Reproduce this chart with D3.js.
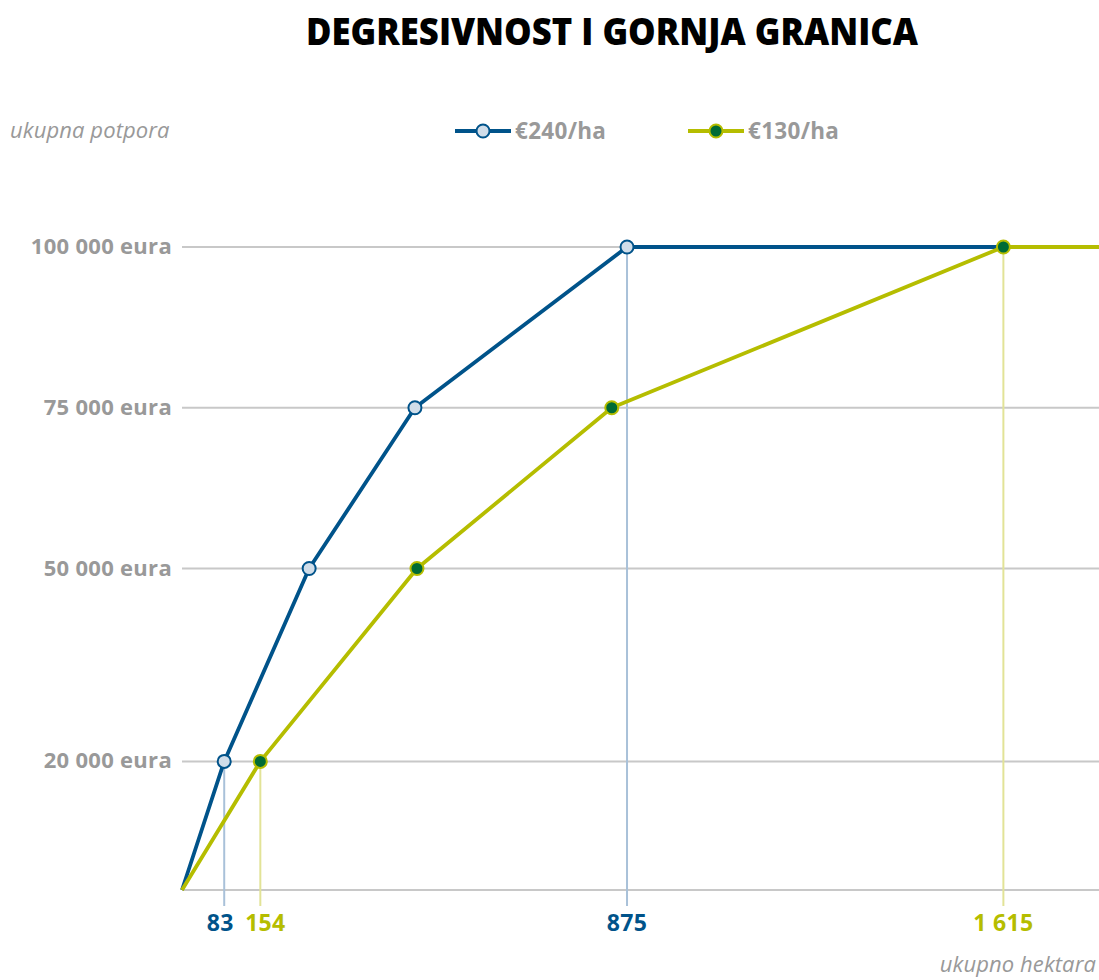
<!DOCTYPE html>
<html><head><meta charset="utf-8">
<script src="https://cdn.jsdelivr.net/npm/d3@7"></script>
<style>body{margin:0;background:#fff;} svg{display:block;}</style>
</head><body>
<svg id="chart" width="1099" height="980"></svg>
<script>
const title = "DEGRESIVNOST I GORNJA GRANICA";
const yAxisTitle = "ukupna potpora";
const xAxisTitle = "ukupno hektara";
const seriesNames = ["€240/ha", "€130/ha"];
const hectares240 = [0, 83, 250, 458, 875, 1803];
const support240 = [0, 20000, 50000, 75000, 100000, 100000];
const hectares130 = [0, 154, 462, 845, 1615, 1803];
const support130 = [0, 20000, 50000, 75000, 100000, 100000];
const markers240 = [83, 250, 458, 875];
const markers130 = [154, 462, 845, 1615];
const yTicks = [20000, 50000, 75000, 100000];
const yTickLabels = ["20 000 eura", "50 000 eura", "75 000 eura", "100 000 eura"];
const xTicks = [83, 154, 875, 1615];
const xTickLabels = ["83", "154", "875", "1 615"];
const xTickSeries = [0, 1, 0, 1];

const blue = "#00538a", green = "#b5bd00";
const colors = [blue, green];
const markerFill = ["#d0dde9", "#006b35"];
const dropColors = ["#a9c1d9", "#e2e397"];

const svg = d3.select("#chart");
const x = d3.scaleLinear().domain([0, 1803]).range([182, 1099]);
const y = d3.scaleLinear().domain([0, 100000]).range([890, 247]);
const font = "'Open Sans', sans-serif";

svg.append("text").attr("x", 612).attr("y", 45).attr("text-anchor", "middle")
  .attr("font-family", font).attr("font-weight", 800).attr("font-size", 37)
  .attr("textLength", 612).attr("lengthAdjust", "spacingAndGlyphs")
  .text(title);

// grid
svg.append("g").selectAll("line").data(yTicks).join("line")
  .attr("x1", x(0)).attr("x2", x(1803)).attr("y1", d => y(d)).attr("y2", d => y(d))
  .attr("stroke", "#c8c8c8").attr("stroke-width", 2);
svg.append("line").attr("x1", x(0)).attr("x2", x(1803)).attr("y1", y(0)).attr("y2", y(0))
  .attr("stroke", "#c8c8c8").attr("stroke-width", 2);

svg.append("g").selectAll("text").data(yTicks).join("text")
  .attr("x", 172).attr("y", d => y(d) + 7).attr("text-anchor", "end")
  .attr("font-family", font).attr("font-weight", 700).attr("font-size", 22)
  .attr("fill", "#999").attr("letter-spacing", 0.3)
  .text((d, i) => yTickLabels[i]);

// drop lines
const dropVals = [[83, 20000, 0], [154, 20000, 1], [875, 100000, 0], [1615, 100000, 1]];
svg.append("g").selectAll("line").data(dropVals).join("line")
  .attr("x1", d => x(d[0])).attr("x2", d => x(d[0]))
  .attr("y1", d => y(d[1])).attr("y2", y(0) + 16)
  .attr("stroke", d => dropColors[d[2]]).attr("stroke-width", 2);

// x tick labels
const xOffsets = [-4, 5, 0, 0];
svg.append("g").selectAll("text").data(xTicks).join("text")
  .attr("x", (d, i) => x(d) + xOffsets[i]).attr("y", 931).attr("text-anchor", "middle")
  .attr("font-family", font).attr("font-weight", 700).attr("font-size", 23)
  .attr("fill", (d, i) => colors[xTickSeries[i]]).attr("letter-spacing", 0.3)
  .text((d, i) => xTickLabels[i]);

const line = d3.line().x(d => x(d[0])).y(d => y(d[1]));
const series = [
  { xs: hectares240, ys: support240, m: markers240 },
  { xs: hectares130, ys: support130, m: markers130 }
];
series.forEach((s, i) => {
  const pts = s.xs.map((v, j) => [v, s.ys[j]]);
  svg.append("path").datum(pts).attr("d", line).attr("fill", "none")
    .attr("stroke", colors[i]).attr("stroke-width", 3.8).attr("stroke-linejoin", "round");
});
series.forEach((s, i) => {
  const pts = s.xs.map((v, j) => [v, s.ys[j]]).filter(p => s.m.includes(p[0]));
  svg.append("g").selectAll("circle").data(pts).join("circle")
    .attr("cx", d => x(d[0])).attr("cy", d => y(d[1])).attr("r", 6.5)
    .attr("fill", markerFill[i]).attr("stroke", colors[i]).attr("stroke-width", 2);
});

// axis titles
svg.append("text").attr("x", 10).attr("y", 138).attr("font-family", font)
  .attr("font-style", "italic").attr("font-size", 22).attr("fill", "#999")
  .attr("letter-spacing", 0.1).text(yAxisTitle);
svg.append("text").attr("x", 1096).attr("y", 972).attr("text-anchor", "end").attr("font-family", font)
  .attr("font-style", "italic").attr("font-size", 22).attr("fill", "#999")
  .attr("letter-spacing", 0.1).text(xAxisTitle);

// legend
const legendX = [455, 688];
seriesNames.forEach((n, i) => {
  const g = svg.append("g").attr("transform", `translate(${legendX[i]},131)`);
  g.append("line").attr("x1", 0).attr("x2", 56).attr("stroke", colors[i]).attr("stroke-width", 3.8);
  g.append("circle").attr("cx", 28).attr("r", 6.5).attr("fill", markerFill[i])
    .attr("stroke", colors[i]).attr("stroke-width", 2);
  g.append("text").attr("x", 60).attr("y", 8).attr("font-family", font).attr("font-weight", 700)
    .attr("font-size", 22.5).attr("fill", "#999").attr("letter-spacing", 0.3).text(n);
});
</script>
</body></html>
